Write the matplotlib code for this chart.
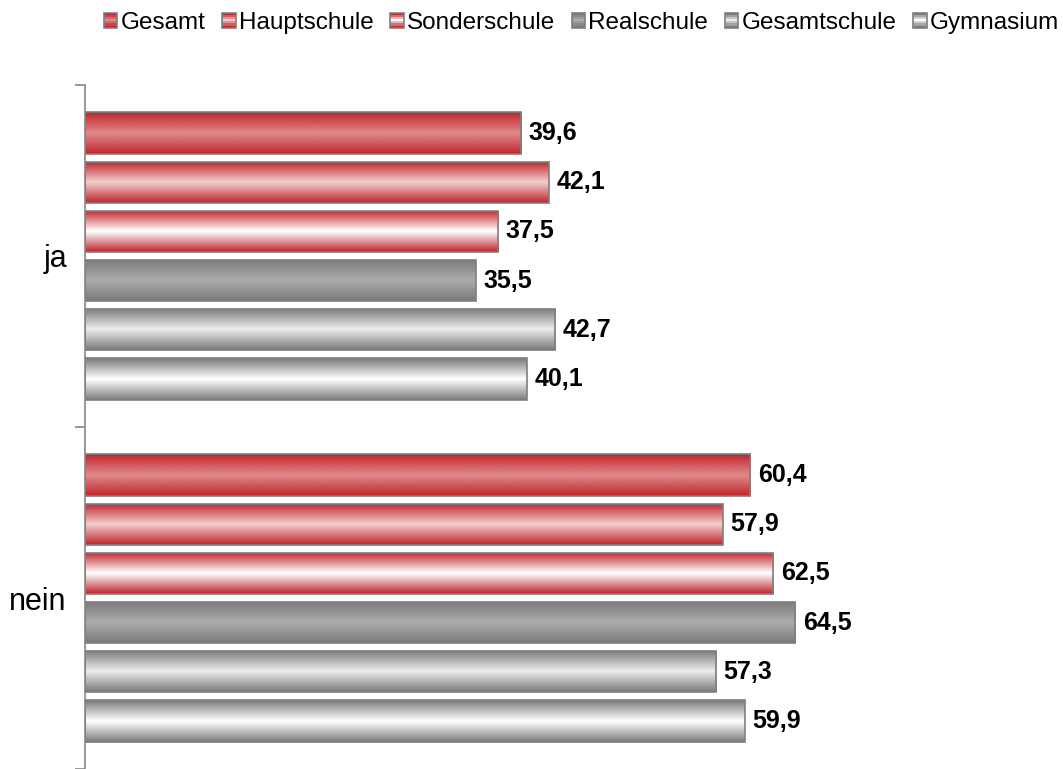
import numpy as np
import matplotlib.pyplot as plt
from matplotlib.colors import LinearSegmentedColormap
from matplotlib.patches import Patch, Rectangle
from matplotlib.legend_handler import HandlerBase

categories = ["ja", "nein"]
series = ["Gesamt", "Hauptschule", "Sonderschule", "Realschule", "Gesamtschule", "Gymnasium"]
values = {
    "Gesamt": [39.6, 60.4],
    "Hauptschule": [42.1, 57.9],
    "Sonderschule": [37.5, 62.5],
    "Realschule": [35.5, 64.5],
    "Gesamtschule": [42.7, 57.3],
    "Gymnasium": [40.1, 59.9],
}
# (edge colour, centre colour) for the gradient of each bar
shades = {
    "Gesamt": ("#c0242c", "#e08a8a"),
    "Hauptschule": ("#c0242c", "#f2cccc"),
    "Sonderschule": ("#c0242c", "#ffffff"),
    "Realschule": ("#7a7a7a", "#ababab"),
    "Gesamtschule": ("#7a7a7a", "#ececec"),
    "Gymnasium": ("#7a7a7a", "#ffffff"),
}


class GradientHandler(HandlerBase):
    # legend square: dark band, light band, dark band, grey border
    def create_artists(self, legend, orig_handle, xdescent, ydescent, width, height, fontsize, trans):
        edge, mid = orig_handle.shades
        arts = []
        n = 7
        for k in range(n):
            t = 1 - abs(k - (n - 1) / 2) / ((n - 1) / 2)
            c = LinearSegmentedColormap.from_list("h", [edge, mid])(t)
            arts.append(Rectangle((-xdescent, -ydescent + height * k / n), width, height / n,
                                  facecolor=c, edgecolor="none", transform=trans))
        arts.append(Rectangle((-xdescent, -ydescent), width, height, facecolor="none",
                              edgecolor="#7f7f7f", linewidth=1.2, transform=trans))
        return arts


fig = plt.figure(figsize=(10.63, 7.69), dpi=100)
ax = fig.add_axes([85 / 1063, 0, 1 - 85 / 1063, 684 / 769])

pitch = 0.1435
height = 0.122
ramp = np.concatenate([np.linspace(0, 1, 50), np.linspace(1, 0, 50)])[:, None]

for i, s in enumerate(series):
    edge, mid = shades[s]
    cmap = LinearSegmentedColormap.from_list(s, [edge, mid])
    for j, v in enumerate(values[s]):
        y = j + (i - 2.5) * pitch
        bar = ax.barh(y, v, height=height, facecolor="none", edgecolor="#7f7f7f",
                      linewidth=1.2, zorder=3)[0]
        im = ax.imshow(ramp, cmap=cmap, aspect="auto", interpolation="bilinear",
                       extent=[0, v, y + height / 2, y - height / 2], zorder=2)
        im.set_clip_path(bar)
        ax.text(v + 0.7, y, f"{v:.1f}".replace(".", ","), va="center", ha="left",
                fontsize=18, fontweight="bold", family="Liberation Sans")

ax.set_xlim(0, 88.8)
ax.set_ylim(1.5, -0.5)
ax.set_yticks([0, 1])
ax.set_yticklabels(categories, fontsize=22, family="Liberation Sans")
ax.set_yticks([-0.5, 0.5, 1.5], minor=True)
ax.tick_params(axis="y", which="major", length=0, pad=13)
ax.tick_params(axis="y", which="minor", length=7, color="#888888", width=1.2)
ax.set_xticks([])
for side in ["top", "right", "bottom"]:
    ax.spines[side].set_visible(False)
ax.spines["left"].set_color("#888888")
ax.spines["left"].set_linewidth(1.2)

handles = []
for s in series:
    h = Patch(label=s)
    h.shades = shades[s]
    handles.append(h)
fig.legend(handles=handles, loc="upper center", bbox_to_anchor=(0.547, 1.013), ncol=6,
           frameon=False, handlelength=0.55, handleheight=0.55, handletextpad=0.12,
           columnspacing=0.7, prop={"family": "Liberation Sans", "size": 17.5},
           handler_map={Patch: GradientHandler()})

fig.savefig("out.png", dpi=100)
